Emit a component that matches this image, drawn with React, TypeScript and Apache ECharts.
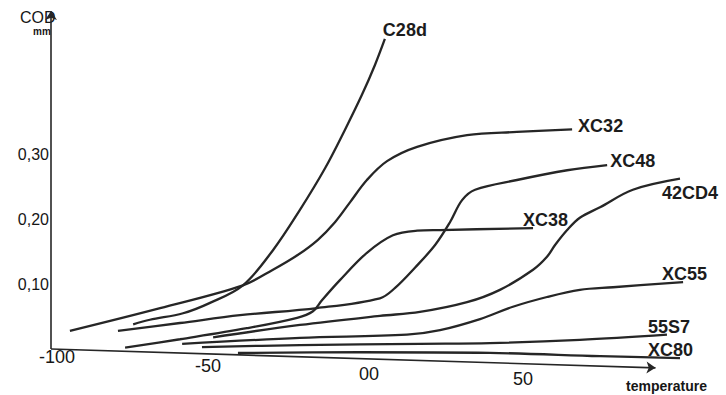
import React, { useEffect, useRef } from "react";
import * as echarts from "echarts";

// ---- data (temperature in °C, COD in mm) ----
const c28dTemp = [-73.5, -68.1, -57.4, -48.7, -38.1, -28.4, -19.7, -11.6, -5.2, 0.3, 4.5, 7.7];
const c28dCod = [0.038, 0.045, 0.055, 0.071, 0.098, 0.152, 0.214, 0.278, 0.337, 0.391, 0.437, 0.477];

const xc32Temp = [-93.9, -64.8, -38.1, -28.4, -20.3, -13.9, -8.4, -3.5, 1.9, 8.4, 18.1, 34.2, 50.3, 68.1];
const xc32Cod = [0.028, 0.063, 0.098, 0.122, 0.145, 0.168, 0.195, 0.226, 0.26, 0.289, 0.311, 0.329, 0.334, 0.338];

const xc48Temp = [-78.4, -58.4, -39.0, -14.2, 6.1, 11.0, 17.4, 23.9, 28.7, 32.6, 36.8, 50.3, 66.5, 79.4];
const xc48Cod = [0.028, 0.04, 0.052, 0.063, 0.078, 0.094, 0.125, 0.16, 0.195, 0.229, 0.245, 0.26, 0.275, 0.283];

const xc38Temp = [-76.1, -58.4, -36.8, -20.6, -15.5, -12.6, -6.8, 1.9, 10.3, 18.1, 25.5, 55.5];
const xc38Cod = [0.002, 0.015, 0.032, 0.048, 0.058, 0.075, 0.106, 0.148, 0.175, 0.182, 0.183, 0.186];

const cd42Temp = [-47.7, -19.7, 6.1, 19.0, 34.2, 44.8, 55.5, 60.0, 62.6, 66.5, 70.6, 77.1, 87.7, 102.9];
const cd42Cod = [0.018, 0.037, 0.051, 0.057, 0.072, 0.091, 0.122, 0.142, 0.16, 0.183, 0.202, 0.218, 0.245, 0.262];

const xc55Temp = [-57.7, -19.7, 14.8, 25.5, 38.4, 49.0, 60.0, 70.6, 81.3, 103.9];
const xc55Cod = [0.008, 0.017, 0.022, 0.029, 0.046, 0.065, 0.08, 0.091, 0.095, 0.103];

const s557Temp = [-51.3, -19.7, 19.0, 41.6, 70.6, 98.7];
const s557Cod = [0.003, 0.006, 0.008, 0.009, 0.014, 0.022];

const xc80Temp = [-39.7, -0.3, 41.6, 77.1, 102.9];
const xc80Cod = [-0.006, -0.005, -0.006, -0.011, -0.014];

const seriesNames = ["C28d", "XC32", "XC48", "XC38", "42CD4", "XC55", "55S7", "XC80"];
const seriesTemps = [c28dTemp, xc32Temp, xc48Temp, xc38Temp, cd42Temp, xc55Temp, s557Temp, xc80Temp];
const seriesCods = [c28dCod, xc32Cod, xc48Cod, xc38Cod, cd42Cod, xc55Cod, s557Cod, xc80Cod];

// tick labels
const xTickValues = [-100, -50, 0, 50];
const xTickLabels = ["-100", "-50", "00", "50"];
const yTickValues = [0.1, 0.2, 0.3];
const yTickLabels = ["0,10", "0,20", "0,30"];

// hand-drawn axes (data coordinates)
const xAxisStart = [-100, 0];
const xAxisEnd = [95, -0.029];
const yAxisStart = [-100, 0];
const yAxisEnd = [-100, 0.52];

// label offsets [dx, dy] relative to each curve's end
const labelOffsets = [
  [-2, -9],
  [6, -3],
  [3, -4],
  [-10, -8],
  [-18, 14],
  [-21, -8],
  [-19, -8],
  [-32, -8],
];

const INK = "#262626";
const FONT = "Liberation Sans, Arial, sans-serif";

export default function App() {
  const ref = useRef<HTMLDivElement>(null);

  useEffect(() => {
    if (!ref.current) return;
    const chart = echarts.init(ref.current, undefined, { renderer: "svg" });

    const series: any[] = seriesNames.map((name, i) => ({
      name,
      type: "line",
      data: seriesTemps[i].map((t, j) => [t, seriesCods[i][j]]),
      smooth: 0.35,
      symbol: "none",
      clip: false,
      lineStyle: { color: INK, width: 2.3 },
      endLabel: {
        show: true,
        formatter: name,
        distance: 0,
        offset: labelOffsets[i],
        fontFamily: FONT,
        fontSize: 18,
        fontWeight: "bold",
        color: "#1c1c1c",
      },
    }));

    series[0].markLine = {
      silent: true,
      symbol: ["none", "arrow"],
      symbolSize: 9,
      label: { show: false },
      lineStyle: { color: INK, width: 1.6, type: "solid" },
      data: [
        [{ coord: xAxisStart }, { coord: xAxisEnd }],
        [{ coord: yAxisStart }, { coord: yAxisEnd }],
      ],
    };

    const rich: any = {};
    const padTop = [0, 18, 34, 44];
    const padLeft = [12, 4, 16, 14];
    xTickValues.forEach((_, i) => {
      rich["r" + i] = {
        fontFamily: FONT,
        fontSize: 18,
        color: "#161616",
        lineHeight: 20,
        padding: [padTop[i], 0, 0, padLeft[i]],
      };
    });

    chart.setOption({
      animation: false,
      backgroundColor: "#ffffff",
      grid: { left: 51, right: 24, top: 4.5, bottom: 26.5, containLabel: false },
      xAxis: {
        type: "value",
        min: -100,
        max: 110,
        interval: 50,
        axisLine: { show: false, onZero: false },
        axisTick: { show: false },
        splitLine: { show: false },
        axisLabel: {
          margin: -22,
          formatter: (v: number) => {
            const i = xTickValues.indexOf(Math.round(v));
            return i < 0 ? "" : `{r${i}|${xTickLabels[i]}}`;
          },
          rich,
        },
      },
      yAxis: {
        type: "value",
        min: -0.03,
        max: 0.53,
        interval: 0.01,
        axisLine: { show: false, onZero: false },
        axisTick: { show: false },
        splitLine: { show: false },
        axisLabel: {
          margin: 2,
          fontFamily: FONT,
          fontSize: 16,
          color: "#161616",
          formatter: (v: number) => {
            const i = yTickValues.findIndex((t) => Math.abs(t - v) < 1e-6);
            return i < 0 ? "" : yTickLabels[i];
          },
        },
      },
      graphic: [
        {
          type: "text",
          left: 20,
          top: 9,
          style: { text: "COD", fontFamily: FONT, fontSize: 16, fill: "#161616" },
        },
        {
          type: "text",
          left: 33,
          top: 26,
          style: { text: "mm", fontFamily: FONT, fontSize: 10, fontWeight: "bold", fill: "#161616" },
        },
        {
          type: "text",
          left: 626,
          top: 379,
          style: { text: "temperature", fontFamily: FONT, fontSize: 14, fontWeight: "bold", fill: "#161616" },
        },
      ],
      series,
    });

    return () => chart.dispose();
  }, []);

  return (
    <div
      ref={ref}
      style={{ position: "fixed", left: 0, top: 0, width: 726, height: 395, background: "#fff" }}
    />
  );
}
